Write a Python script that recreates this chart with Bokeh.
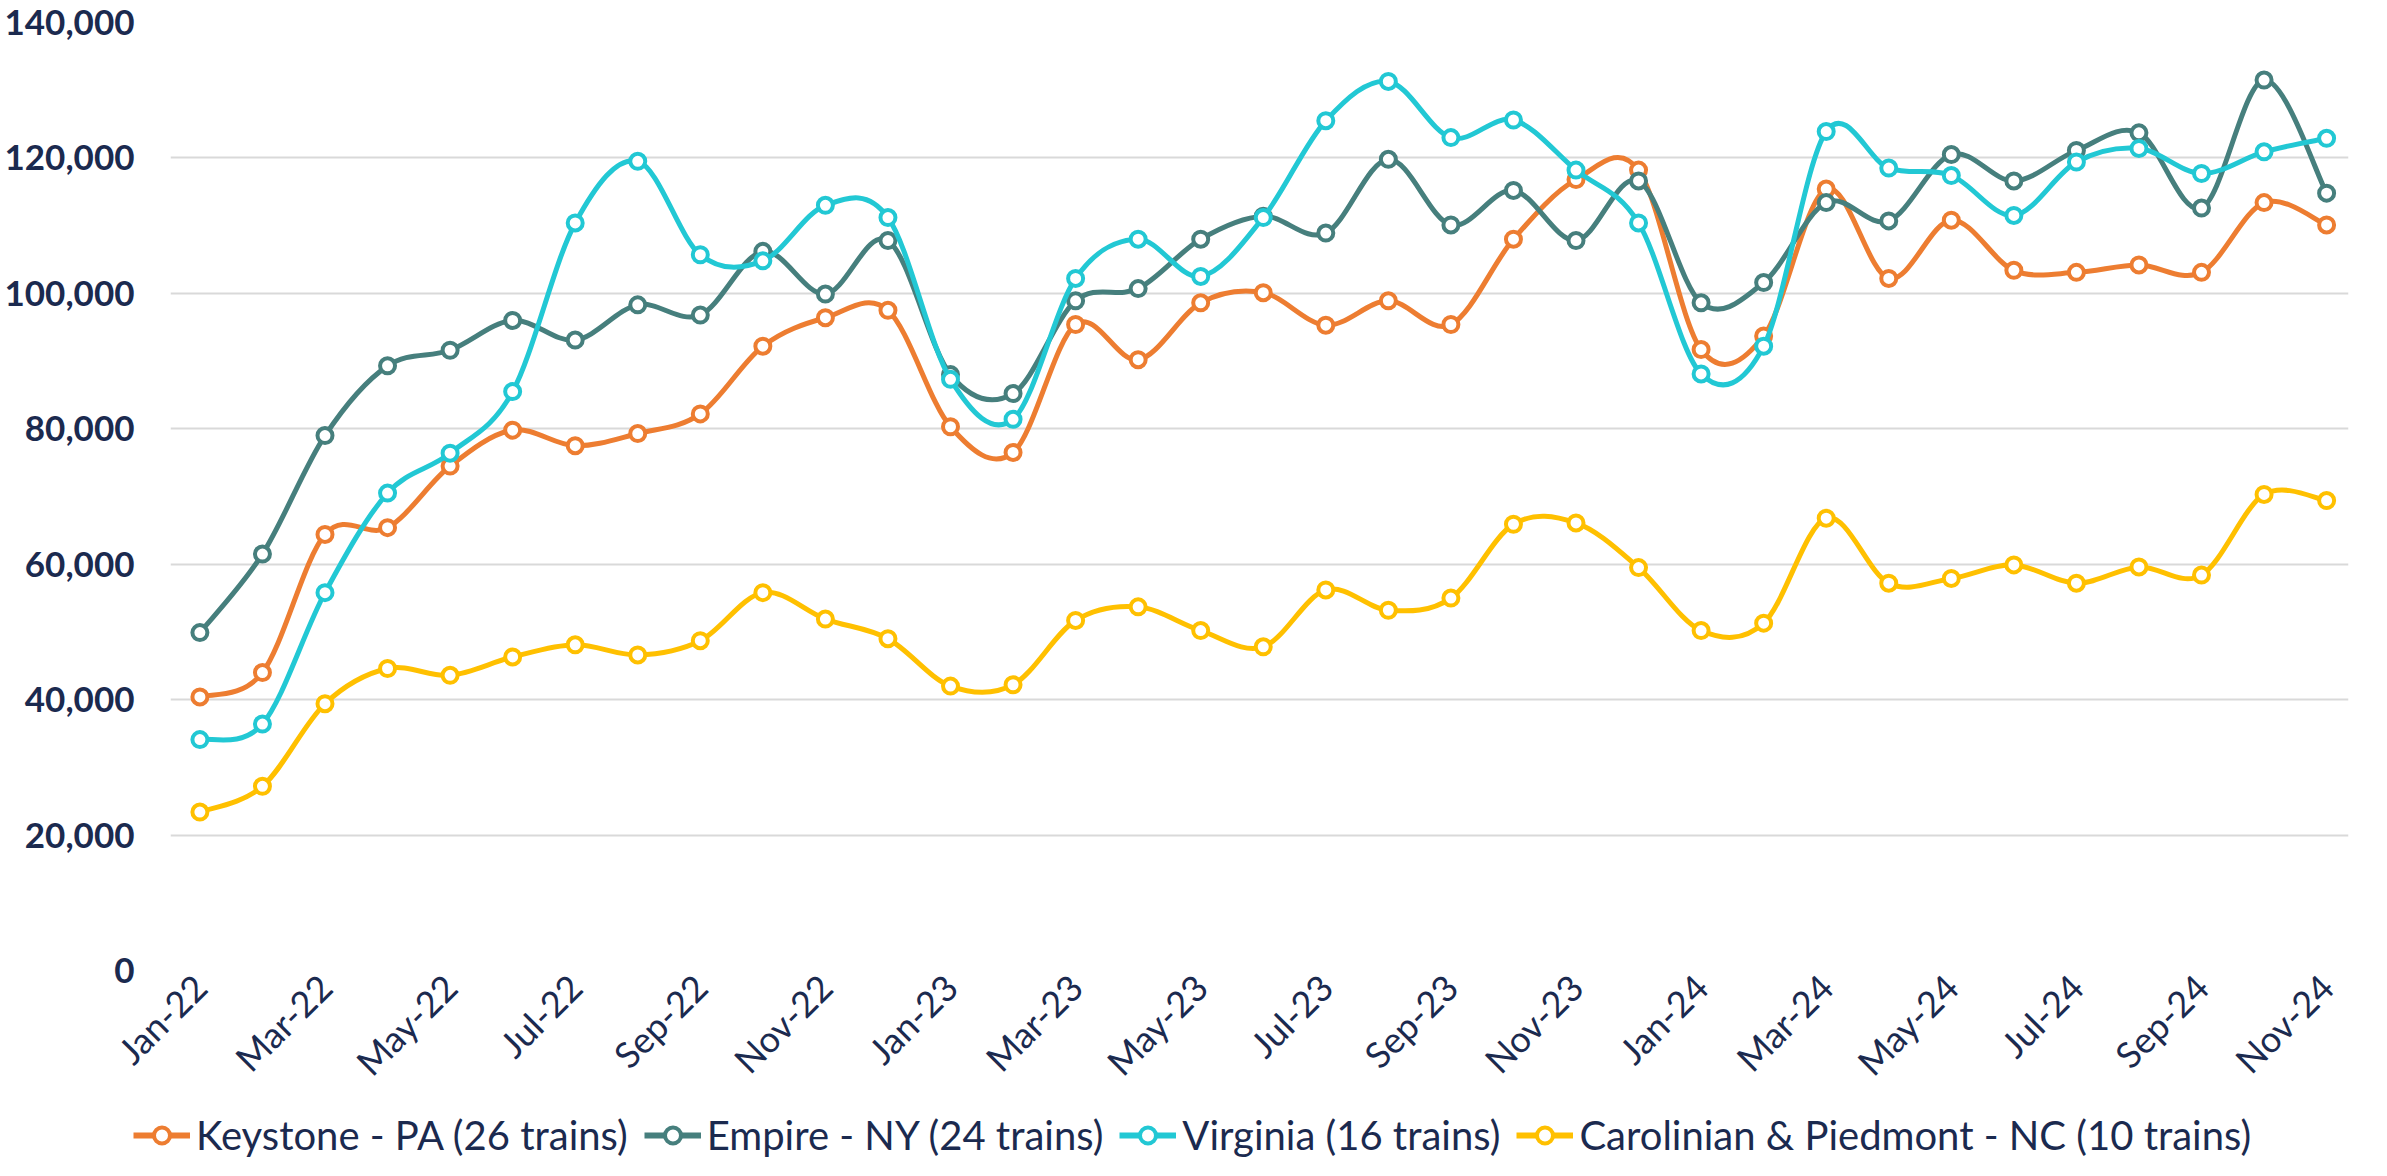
import math
from bokeh.plotting import figure
from bokeh.layouts import column
from bokeh.models import (ColumnDataSource, Legend, LegendItem, FixedTicker,
                          NumeralTickFormatter, Range1d)
from bokeh.embed import file_html
from bokeh.resources import INLINE

months = ["Jan-22", "Feb-22", "Mar-22", "Apr-22", "May-22", "Jun-22", "Jul-22", "Aug-22",
          "Sep-22", "Oct-22", "Nov-22", "Dec-22",
          "Jan-23", "Feb-23", "Mar-23", "Apr-23", "May-23", "Jun-23", "Jul-23", "Aug-23",
          "Sep-23", "Oct-23", "Nov-23", "Dec-23",
          "Jan-24", "Feb-24", "Mar-24", "Apr-24", "May-24", "Jun-24", "Jul-24", "Aug-24",
          "Sep-24", "Oct-24", "Nov-24"]

keystone = [40400, 44000, 64400, 65400, 74500, 79800, 77500, 79300, 82200, 92200, 96400, 97500,
            80300, 76500, 95400, 90200, 98600, 100100, 95300, 98900, 95400, 108000, 116800, 118200,
            91700, 93700, 115400, 102200, 110800, 103400, 103100, 104200, 103100, 113400, 110100]
empire = [49900, 61500, 79000, 89300, 91600, 96000, 93100, 98300, 96800, 106200, 99900, 107800,
          88000, 85200, 98900, 100700, 108000, 111400, 108900, 119800, 110100, 115200, 107800, 116600,
          98600, 101600, 113400, 110700, 120500, 116600, 121100, 123700, 112600, 131500, 114800]
virginia = [34100, 36400, 55800, 70500, 76400, 85500, 110400, 119500, 105700, 104800, 113000, 111200,
            87300, 81400, 102200, 108000, 102500, 111200, 125500, 131300, 123000, 125600, 118200, 110400,
            88100, 92200, 123900, 118500, 117400, 111500, 119400, 121400, 117700, 120900, 122900]
carolinian = [23400, 27200, 39400, 44600, 43600, 46300, 48100, 46600, 48700, 55800, 51900, 49000,
              42000, 42200, 51700, 53700, 50200, 47800, 56200, 53200, 55000, 65900, 66100, 59500,
              50200, 51300, 66800, 57200, 57900, 59900, 57200, 59600, 58400, 70300, 69400]

series_names = ["Keystone - PA (26 trains)", "Empire - NY (24 trains)",
                "Virginia (16 trains)", "Carolinian & Piedmont - NC (10 trains)"]
series_values = [keystone, empire, virginia, carolinian]
series_colors = ["#ED7D31", "#467F7D", "#22C8D4", "#FFC000"]

y_ticks = list(range(0, 140001, 20000))
x_ticks = list(range(0, len(months), 2))

NAVY = "#1B2A4F"
FONT = "Lato"
LINE_W = 5
MARK_SIZE = 15
MARK_LW = 4

p = figure(width=2371, height=1112, output_backend="svg", toolbar_location=None,
           x_range=Range1d(-0.47, 34.35), y_range=Range1d(0, 140000),
           min_border_left=170, min_border_top=22, min_border_right=23, min_border_bottom=142)
p.outline_line_color = None
p.background_fill_color = "white"
p.xgrid.grid_line_color = None
p.ygrid.grid_line_color = "#D9D9D9"
p.ygrid.grid_line_width = 2

p.yaxis.ticker = FixedTicker(ticks=y_ticks)
p.yaxis.formatter = NumeralTickFormatter(format="0,0")
p.yaxis.major_label_text_font = FONT
p.yaxis.major_label_text_font_style = "bold"
p.yaxis.major_label_text_font_size = "35px"
p.yaxis.major_label_text_color = NAVY
p.yaxis.axis_line_color = None
p.yaxis.major_tick_line_color = None
p.yaxis.minor_tick_line_color = None
p.yaxis.major_tick_out = 0
p.yaxis.major_label_standoff = 36

p.xaxis.ticker = FixedTicker(ticks=x_ticks)
p.xaxis.major_label_overrides = {i: months[i] for i in x_ticks}
p.xaxis.major_label_orientation = math.pi / 4
p.xaxis.major_label_text_font = FONT
p.xaxis.major_label_text_font_size = "36px"
p.xaxis.major_label_text_color = NAVY
p.xaxis.axis_line_color = None
p.xaxis.major_tick_line_color = None
p.xaxis.minor_tick_line_color = None
p.xaxis.major_tick_out = 0
p.xaxis.major_label_standoff = 10

# separate strip holding the legend (its frame spans the full width)
leg = figure(width=2371, height=48, output_backend="svg", toolbar_location=None,
             x_range=Range1d(0, 1), y_range=Range1d(0, 1),
             x_axis_type=None, y_axis_type=None,
             min_border_left=0, min_border_right=0, min_border_top=0, min_border_bottom=0)
leg.frame_align = False
leg.outline_line_color = None
leg.xgrid.grid_line_color = None
leg.ygrid.grid_line_color = None

items = []
xs = list(range(len(months)))
for name, vals, col in zip(series_names, series_values, series_colors):
    n = len(vals)
    x0, y0, x1, y1, cx0, cy0, cx1, cy1 = [], [], [], [], [], [], [], []
    for i in range(n - 1):
        pm = i - 1 if i > 0 else i
        pn = i + 2 if i + 2 < n else i + 1
        x0.append(xs[i]); y0.append(vals[i])
        x1.append(xs[i + 1]); y1.append(vals[i + 1])
        cx0.append(xs[i] + (xs[i + 1] - xs[pm]) / 6.0)
        cy0.append(vals[i] + (vals[i + 1] - vals[pm]) / 6.0)
        cx1.append(xs[i + 1] - (xs[pn] - xs[i]) / 6.0)
        cy1.append(vals[i + 1] - (vals[pn] - vals[i]) / 6.0)
    bsrc = ColumnDataSource(dict(x0=x0, y0=y0, x1=x1, y1=y1, cx0=cx0, cy0=cy0, cx1=cx1, cy1=cy1))
    p.bezier(x0="x0", y0="y0", x1="x1", y1="y1", cx0="cx0", cy0="cy0", cx1="cx1", cy1="cy1",
             source=bsrc, line_color=col, line_width=LINE_W)
    psrc = ColumnDataSource(dict(x=xs, y=vals))
    p.scatter(x="x", y="y", source=psrc, marker="circle", size=MARK_SIZE, fill_color="white",
              line_color=col, line_width=MARK_LW)
    # legend swatches (drawn off-range in the legend strip)
    lb = leg.line(x=[5, 6], y=[5, 5], line_color=col, line_width=6)
    ls = leg.scatter(x=[5], y=[5], marker="circle", size=MARK_SIZE, fill_color="white",
                     line_color=col, line_width=MARK_LW)
    items.append(LegendItem(label=name, renderers=[lb, ls]))

legend = Legend(items=items, orientation="horizontal", location=(133, 1),
                label_text_font=FONT, label_text_font_size="40px", label_text_color=NAVY,
                glyph_width=57, glyph_height=40, label_standoff=6, spacing=16,
                border_line_color=None, background_fill_alpha=0, padding=0, margin=0)
leg.add_layout(legend, "center")

open("out.html", "w").write(file_html(column(p, leg, spacing=0), INLINE))
